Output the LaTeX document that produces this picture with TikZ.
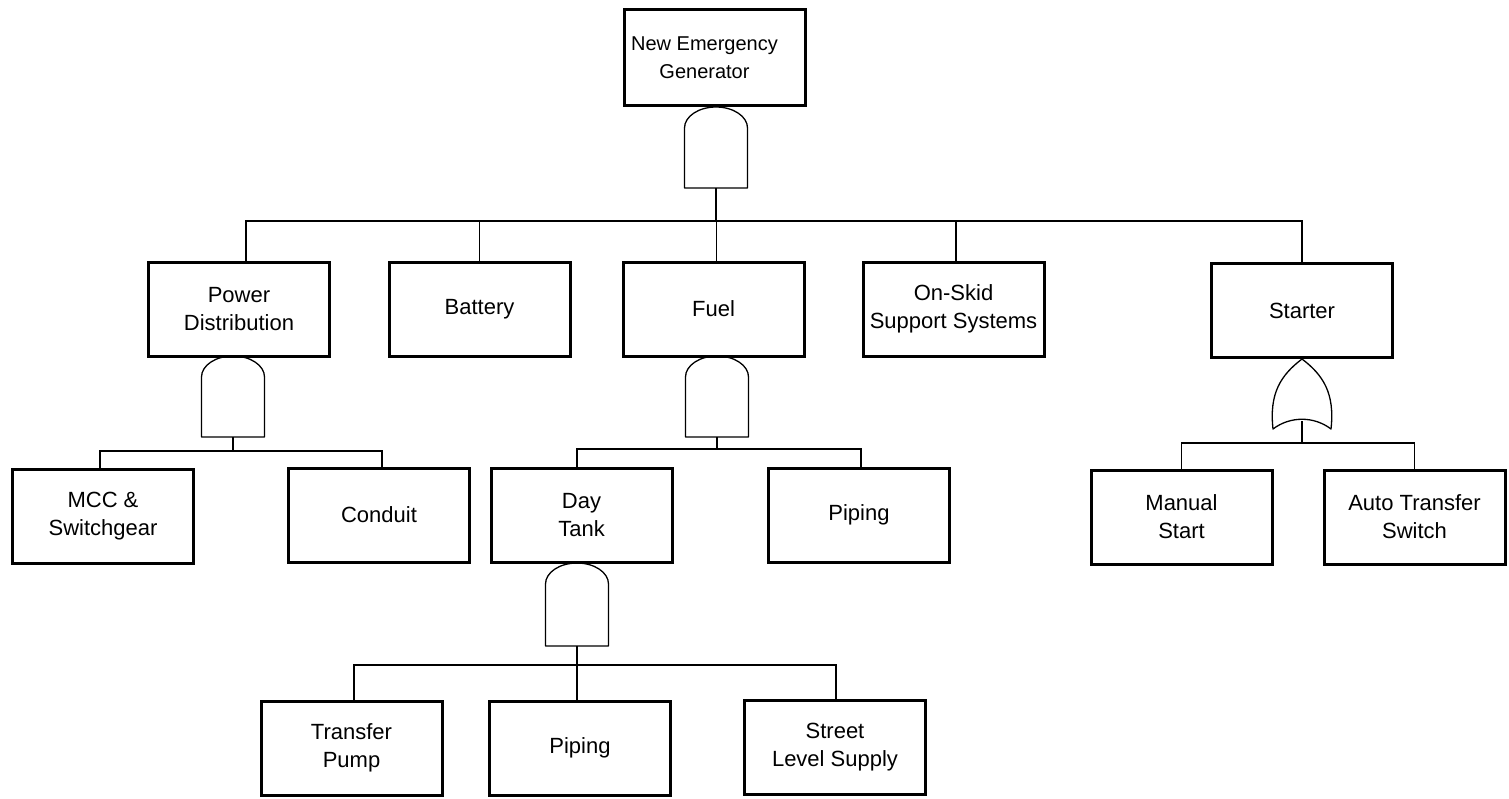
\documentclass[tikz,border=0pt]{standalone}
\usepackage{fontspec}
\setmainfont{Liberation Sans}
\usetikzlibrary{calc}
\tikzset{
  box/.style={draw, line width=3pt, minimum width=181pt, minimum height=94pt,
    align=center, inner sep=0pt, font=\fontsize{22}{28}\selectfont},
  conn/.style={line width=1.6pt},
  gate/.style={line width=1.3pt, line join=round},
}
\newcommand\andgate[4]{% name, cx, top, bottom
  \draw[gate] (#2-31.5,#4) -- (#2-31.5,#3+21)
    arc[start angle=180,end angle=360,x radius=31.5,y radius=21]
    -- (#2+31.5,#4) -- cycle;
  \coordinate (#1) at (#2,#4);}
\begin{document}
\begin{tikzpicture}[x=1pt,y=-1pt]
\useasboundingbox (0,0) rectangle (1509,798);
% boxes
\node[box, minimum height=96pt, font=\fontsize{20}{28}\selectfont] (top) at (714.5,57.5)
  {New Emergency\hspace*{20pt}\\Generator\hspace*{20pt}};
\node[box] (pd) at (239,309) {Power\\Distribution};
\node[box] (bat) at (479.5,309) {Battery};
\node[box] (fuel) at (713.5,309) {Fuel};
\node[box] (onskid) at (953.5,309) {On-Skid\\Support Systems};
\node[box] (starter) at (1302,310.5) {Starter};
\node[box] (mcc) at (103,516.5) {MCC \&\\Switchgear};
\node[box] (conduit) at (379,515) {Conduit};
\node[box] (daytank) at (581.5,515.5) {Day\\Tank};
\node[box] (piping1) at (859,515) {Piping};
\node[box] (manual) at (1181.5,517) {Manual\\Start};
\node[box] (auto) at (1414.5,517) {Auto Transfer\\Switch};
\node[box] (tp) at (351.5,748) {Transfer\\Pump};
\node[box] (piping2) at (580,748) {Piping};
\node[box] (street) at (835,747.5) {Street\\Level Supply};
% gates
\andgate{g0}{716}{107}{188}
\andgate{g1}{233}{356}{437}
\andgate{g2}{717}{356}{437}
\andgate{g3}{577}{563}{646}
\draw[gate] (1302,359) .. controls (1281,375) and (1269,393) .. (1273,429)
  .. controls (1290,416) and (1314,416) .. (1331,429)
  .. controls (1335,393) and (1323,375) .. (1302,359) -- cycle;
\coordinate (g4) at (1302,421);
% buses
\coordinate (b0) at (716,221);
\coordinate (b1) at (233,451);
\coordinate (b2) at (717,449);
\coordinate (b3) at (577,665);
\coordinate (b4) at (1302,443);
\draw[conn] (g0) -- (b0);
\draw[conn] ([xshift=7pt]pd.north) |- (b0);
\draw[conn] (bat.north) |- (b0);
\draw[conn] ([xshift=3pt]fuel.north) |- (b0);
\draw[conn] ([xshift=2.5pt]onskid.north) |- (b0);
\draw[conn] (starter.north) |- (b0);
\draw[conn] (g1) -- (b1);
\draw[conn] ([xshift=-3pt]mcc.north) |- (b1);
\draw[conn] ([xshift=3pt]conduit.north) |- (b1);
\draw[conn] (g2) -- (b2);
\draw[conn] ([xshift=-4.5pt]daytank.north) |- (b2);
\draw[conn] ([xshift=2pt]piping1.north) |- (b2);
\draw[conn] (g3) -- (b3);
\draw[conn] ([xshift=2.5pt]tp.north) |- (b3);
\draw[conn] ([xshift=-3pt]piping2.north) |- (b3);
\draw[conn] ([xshift=1pt]street.north) |- (b3);
\draw[conn] (g4) -- (b4);
\draw[conn] (manual.north) |- (b4);
\draw[conn] (auto.north) |- (b4);
\end{tikzpicture}
\end{document}
